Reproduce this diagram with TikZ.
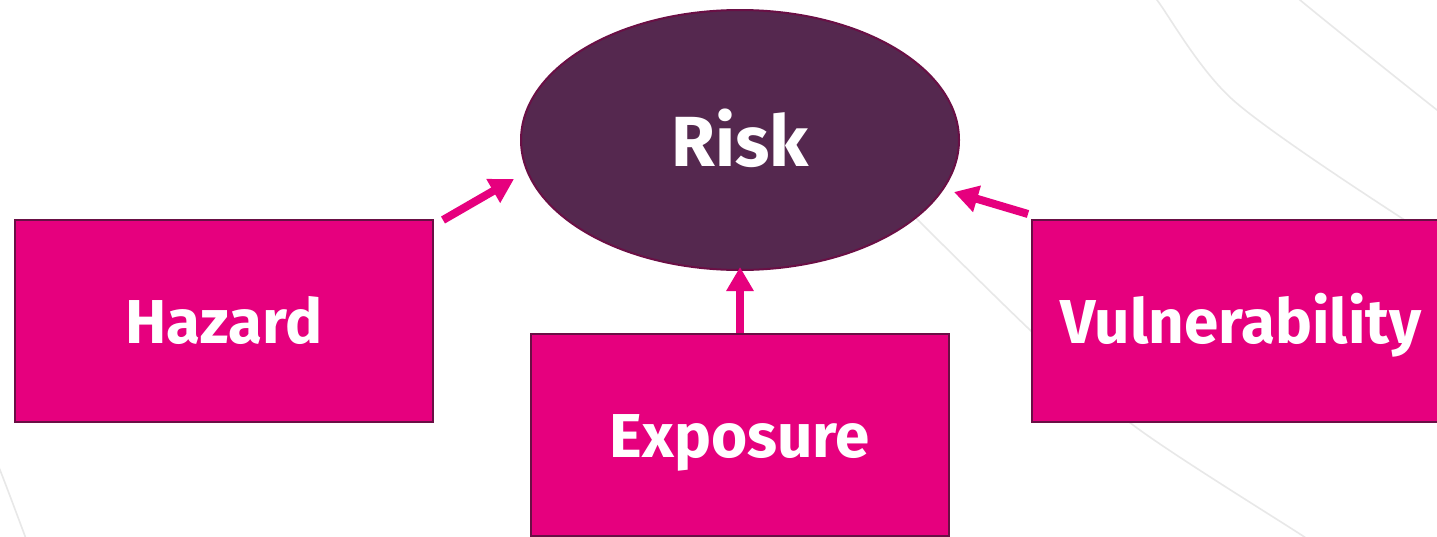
\documentclass[tikz,border=0pt]{standalone}
\usepackage{fontspec}
\setmainfont{Fira Sans}
\usetikzlibrary{arrows.meta,shapes.geometric}
\definecolor{pink}{HTML}{E6007E}
\definecolor{plum}{HTML}{55284F}
\definecolor{edge}{HTML}{6A0F45}
\definecolor{arc}{HTML}{E8E8E8}
\tikzset{
  box/.style={draw=edge, line width=2pt, fill=pink, minimum width=418pt, minimum height=202pt, inner sep=0pt, text height=45pt, text depth=0pt, text=white, font=\fontsize{62}{70}\selectfont\bfseries},
  riskshape/.style={ellipse, draw=edge, line width=2pt, fill=plum, minimum width=438pt, minimum height=260pt, inner sep=0pt, text height=52pt, text depth=0pt, text=white, font=\fontsize{71}{80}\selectfont\bfseries},
  conn/.style={pink, line width=8pt, -{Triangle[length=24pt,width=26pt]}},
  bgarc/.style={arc, line width=1.6pt}
}
\begin{document}
\begin{tikzpicture}[x=1pt,y=-1pt]
\useasboundingbox (0,0) rectangle (1437,536);
\clip (0,0) rectangle (1437,536);
\fill[white] (0,0) rectangle (1437,536);
% background arcs
\draw[bgarc] plot[smooth] coordinates {(860,160) (920,222) (1030,330) (1133,425) (1303,536) (1340,560)};
\draw[bgarc] plot[smooth] coordinates {(1145,-15) (1157,0) (1233,100) (1400,217) (1470,255)};
\draw[bgarc] plot[smooth] coordinates {(1288,-15) (1300,0) (1437,110) (1460,125)};
\draw[bgarc] plot[smooth] coordinates {(-10,450) (0,470) (25,536) (30,550)};
% nodes
\node[riskshape] (risk) at (740,140) {Risk};
\node[box] (hazard) at (224,321) {Hazard};
\node[box] (exposure) at (740,435) {Exposure};
\node[box] (vuln) at (1241,321) {Vulnerability};
% connector ends
\coordinate (hs) at (443,220);
\coordinate (he) at (514,179);
\coordinate (es) at (740,333);
\coordinate (ee) at (740,267);
\coordinate (vs) at (1028,214);
\coordinate (ve) at (954,192);
\draw[conn] (hs) -- (he);
\draw[conn] (es) -- (ee);
\draw[conn] (vs) -- (ve);
\end{tikzpicture}
\end{document}
